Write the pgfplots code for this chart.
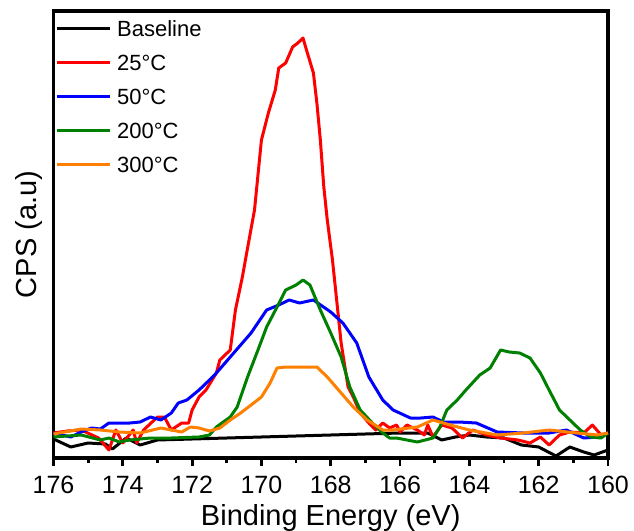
\documentclass[border=0pt]{standalone}
\usepackage{fontspec}
\setmainfont{Liberation Sans}
\usepackage{pgfplots}
\pgfplotsset{compat=1.18}
\definecolor{cgreen}{RGB}{0,128,0}
\definecolor{corange}{RGB}{255,128,0}
\begin{document}
\begin{tikzpicture}
\begin{axis}[
    scale only axis,
    width=554.5pt, height=447pt,
    x dir=reverse,
    xmin=160, xmax=176, ymin=0, ymax=447,
    xtick={160,162,...,176},
    minor x tick num=1,
    ytick=\empty,
    xtick pos=bottom,
    tick align=outside,
    major tick length=8pt, minor tick length=5pt,
    every tick/.style={black, line width=2.8pt},
    axis line style={line width=3.2pt},
    /pgf/number format/assume math mode=true,
    x tick label style={font=\fontsize{25}{25}\selectfont, yshift=-7pt},
    xlabel={Binding Energy (eV)},
    ylabel={CPS (a.u)},
    label style={font=\fontsize{29}{29}\selectfont},
    xlabel style={at={(axis description cs:0.5,0)}, anchor=base, yshift=-67pt},
    ylabel style={at={(axis description cs:0,0.5)}, anchor=base, yshift=17pt},
    legend image code/.code={\draw[#1] (0pt,0pt) -- (53pt,0pt);},
    legend cell align=left,
    legend style={draw=none, fill=none, at={(axis description cs:0,1)},
      anchor=north west, inner sep=0pt, font=\fontsize{22}{22}\selectfont,
      nodes={inner sep=0pt, text height=25pt, text depth=9pt},
      /tikz/every odd column/.append style={column sep=6pt}, xshift=1.5pt},
    every axis plot/.append style={line width=3pt, line join=round},
    clip=false,
  ]

  \addplot[black] coordinates {
    (176,19) (175.5,11) (175,15) (174.5,14) (174.3,9) (173.9,20) (173.5,13)
    (173,18) (172,19) (170,21) (168,23) (166,25) (165.2,25) (164.8,18)
    (164.4,21) (164,23) (163.5,21) (163,20) (162.5,13) (162,11) (161.5,2)
    (161.1,11) (160.7,6) (160.4,3) (160,8)
  };
  \addlegendentry{Baseline}

  \addplot[red] coordinates {
    (176,25) (175.6,27) (175.2,28) (174.7,20) (174.4,8) (174.2,28) (174.0,15)
    (173.7,28) (173.6,15) (173.4,28) (173.0,41) (172.8,41) (172.6,28)
    (172.3,35) (172.1,35) (172.0,48) (171.8,61) (171.6,68) (171.3,85)
    (171.2,98) (170.9,108) (170.75,148) (170.55,181) (170.4,210) (170.2,248)
    (170.0,318) (169.8,345) (169.6,368) (169.5,390) (169.3,395) (169.1,411)
    (168.95,415) (168.8,420) (168.7,408) (168.5,385) (168.4,355) (168.3,318)
    (168.2,271) (168.1,238) (167.95,198) (167.7,115) (167.5,71) (167.35,61)
    (167.15,45) (166.9,35) (166.7,28) (166.5,35) (166.3,30) (166.1,33)
    (166.0,26) (165.8,33) (165.5,28) (165.3,23) (165.2,33) (165.05,21)
    (164.8,33) (164.5,30) (164.2,20) (163.9,28) (163.5,23) (163.1,20)
    (162.6,18) (162.25,15) (161.95,21) (161.7,13) (161.4,23) (161.1,26)
    (160.7,25) (160.45,33) (160.2,23) (160,25)
  };
  \addlegendentry{25°C}

  \addplot[blue] coordinates {
    (176,25) (175.5,21) (175.2,26) (174.9,30) (174.65,29) (174.4,35)
    (173.8,35) (173.5,36) (173.2,41) (172.9,38) (172.6,45) (172.4,55)
    (172.15,58) (171.8,68) (171.5,78) (171.3,85) (170.8,105) (170.3,125)
    (169.85,148) (169.5,153) (169.2,158) (168.9,155) (168.5,158) (168.0,146)
    (167.65,135) (167.25,115) (166.9,81) (166.5,58) (166.2,48) (165.7,40)
    (165.4,40) (165.05,41) (164.75,36) (164.3,36) (163.8,35) (163.2,26)
    (162.45,25) (161.7,25) (161.2,28) (160.7,20) (160.3,21) (160,25)
  };
  \addlegendentry{50°C}

  \addplot[cgreen] coordinates {
    (176,21) (175.2,23) (174.65,18) (174.4,20) (174.1,16) (173.8,18)
    (173.2,20) (172.6,20) (171.8,21) (171.5,23) (171.3,31) (170.9,41)
    (170.7,51) (170.4,81) (170.1,108) (169.85,131) (169.55,151) (169.3,168)
    (169.0,173) (168.8,178) (168.6,173) (168.3,148) (168.0,125) (167.7,101)
    (167.45,71) (167.15,48) (166.8,35) (166.5,25) (166.3,20) (166.1,20)
    (165.5,16) (165.05,20) (164.85,31) (164.65,48) (164.35,58) (164.1,68)
    (163.7,83) (163.4,90) (163.1,108) (162.85,106) (162.55,105) (162.25,100)
    (161.95,85) (161.7,68) (161.4,48) (161.1,38) (160.8,28) (160.5,21)
    (160.2,20) (160,25)
  };
  \addlegendentry{200°C}

  \addplot[corange] coordinates {
    (176,24) (175.2,29) (174.65,28) (174.1,26) (173.5,25) (172.9,30)
    (172.3,26) (172.05,31) (171.8,30) (171.5,27) (171.2,30) (170.9,38)
    (170.6,45) (170.3,53) (170.0,61) (169.75,75) (169.55,90) (169.3,91)
    (168.9,91) (168.4,91) (168.1,81) (167.7,65) (167.35,51) (166.95,38)
    (166.5,28) (166.2,28) (165.5,31) (165.05,38) (164.55,33) (164.0,28)
    (163.2,23) (162.45,25) (161.7,28) (160.9,25) (160.3,23) (160,25)
  };
  \addlegendentry{300°C}

\end{axis}
\pgfresetboundingbox
\path (current axis.south west) ++(-53.5pt,-72pt) rectangle ++(634pt,530pt);
\end{tikzpicture}
\end{document}
